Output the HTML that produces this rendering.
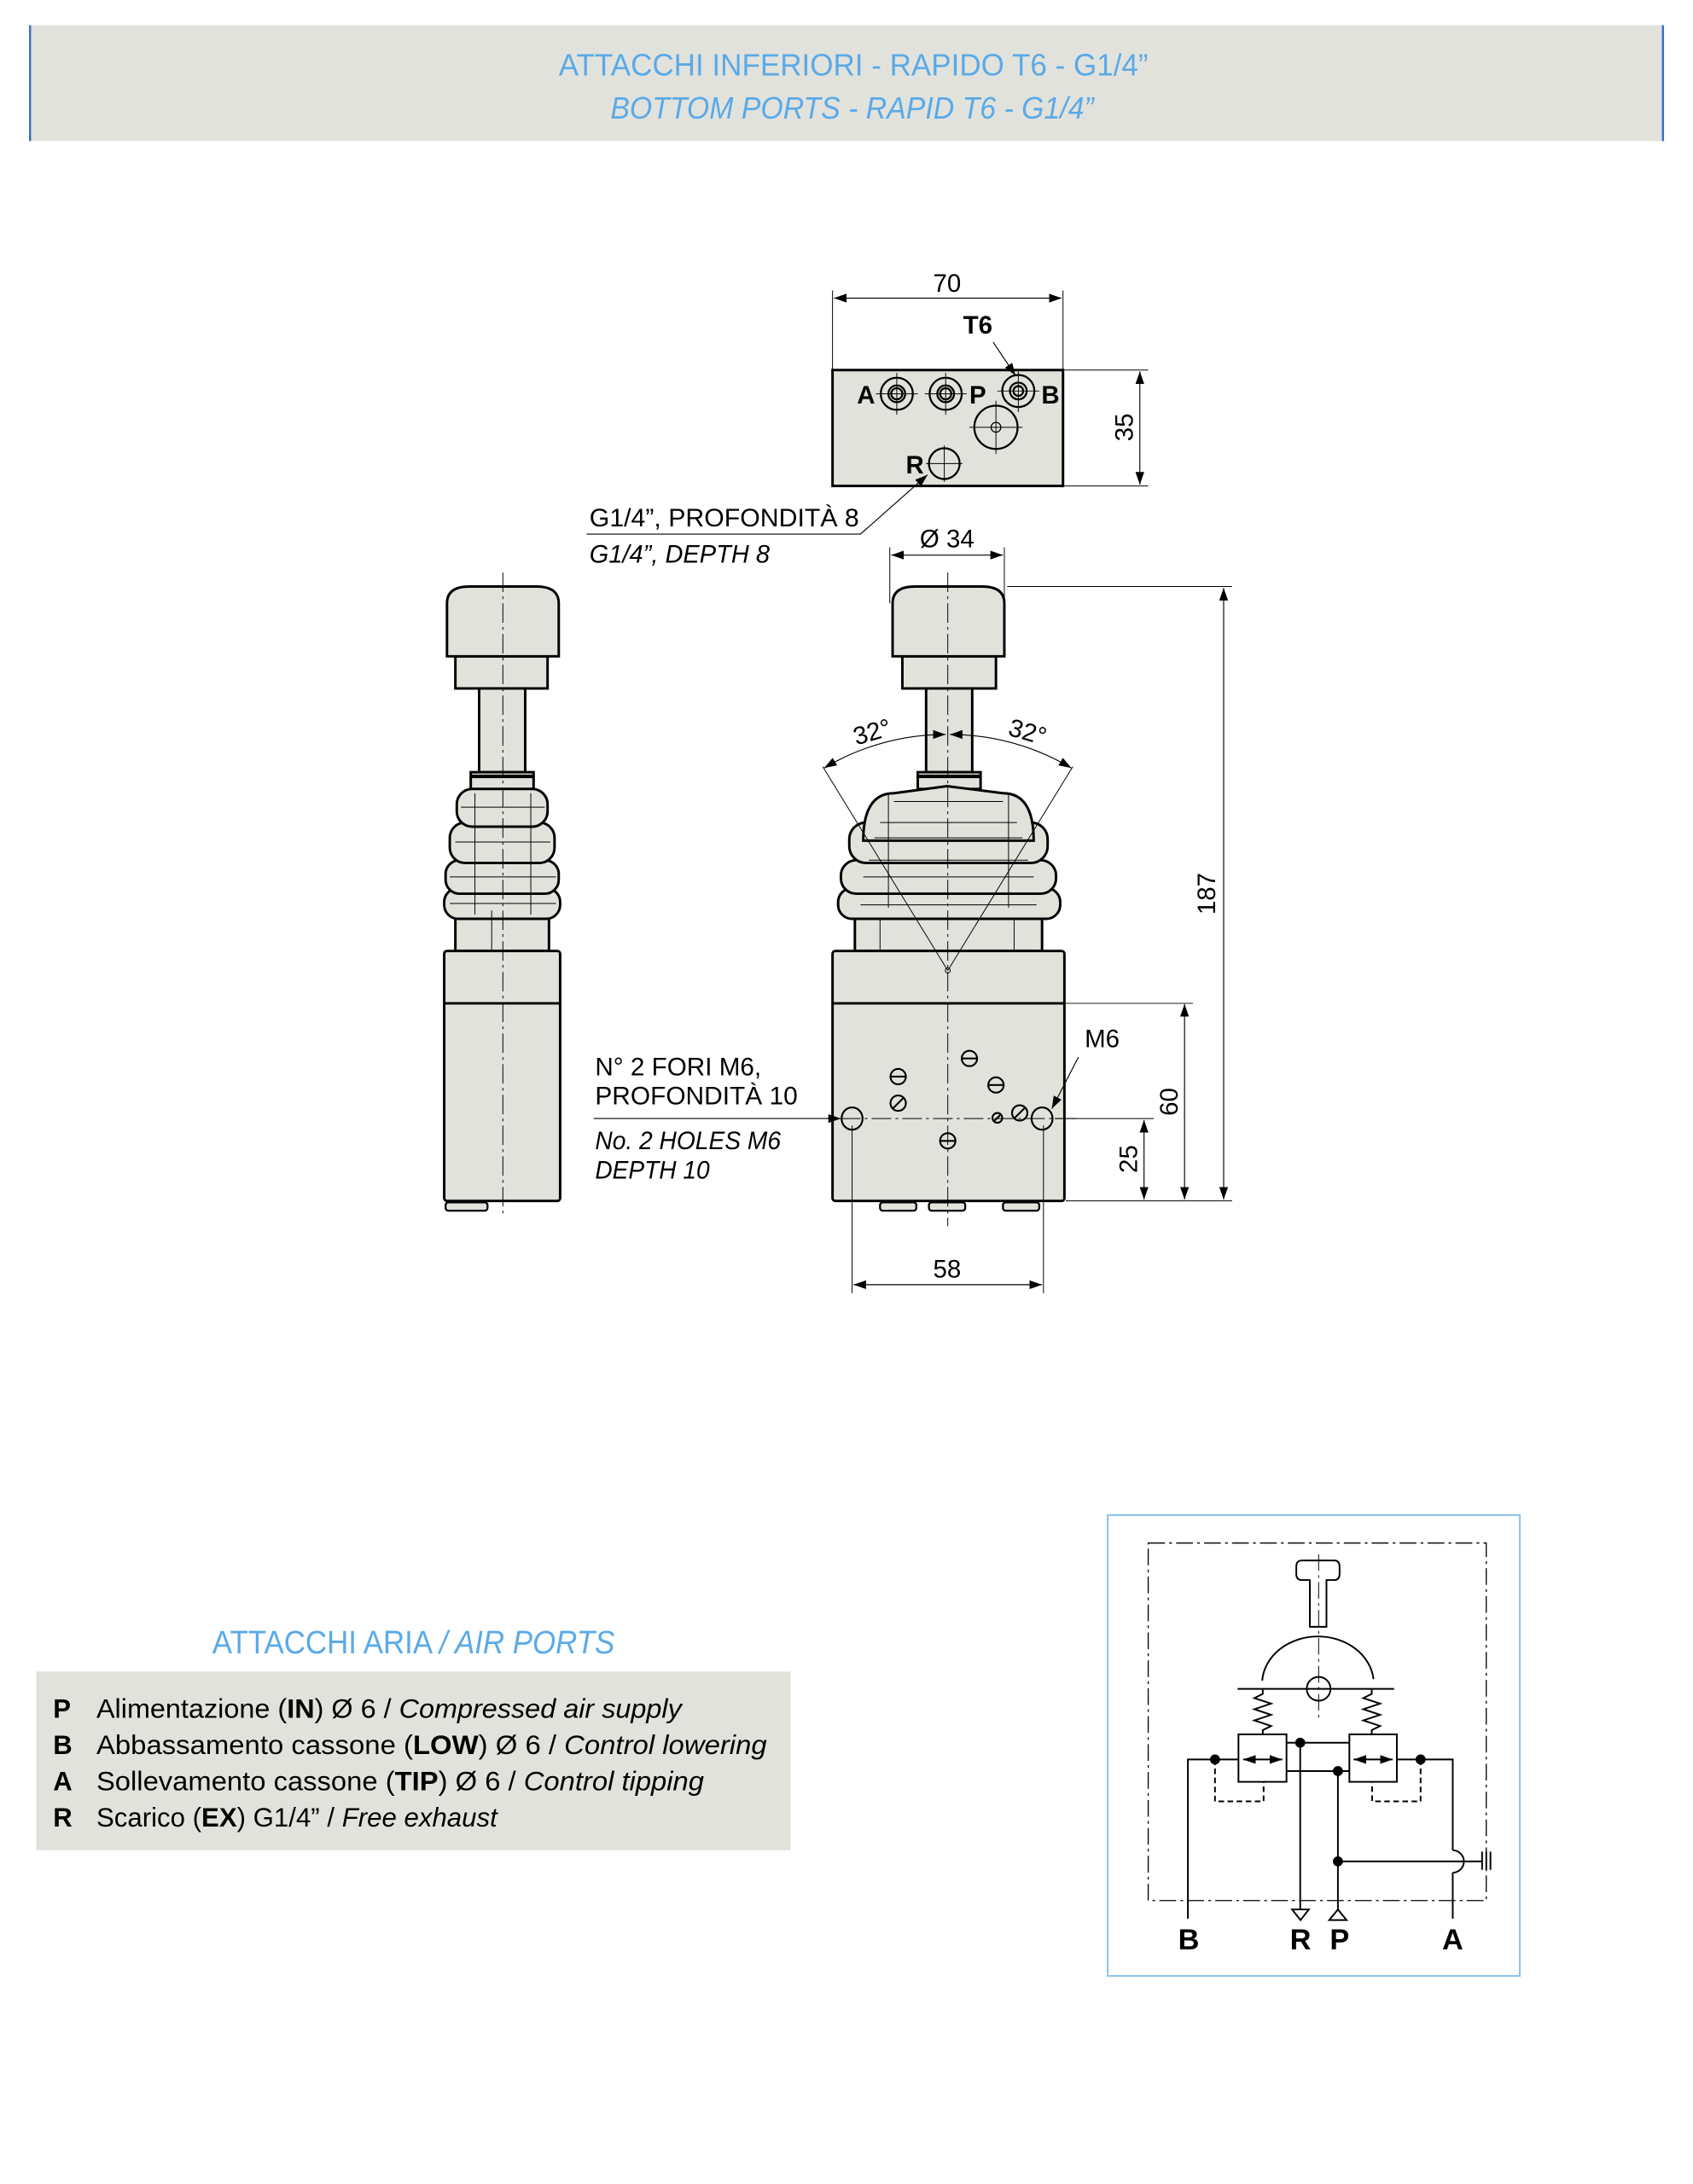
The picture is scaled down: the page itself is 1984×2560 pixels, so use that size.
<!DOCTYPE html>
<html><head><meta charset="utf-8"><style>
html,body{margin:0;padding:0;background:#fff;}
svg{display:block;}
text{font-family:"Liberation Sans",sans-serif;}
</style></head><body>
<svg width="1984" height="2560" viewBox="0 0 1212 1564" preserveAspectRatio="none" xmlns="http://www.w3.org/2000/svg">
<defs>
<marker id="ar" viewBox="0 0 10 10" refX="10" refY="5" markerWidth="9" markerHeight="9" markerUnits="userSpaceOnUse" orient="auto-start-reverse"><path d="M0,1.5 L10,5 L0,8.5 Z" fill="#000"/></marker>
</defs>
<rect width="1212" height="1564" fill="#fff"/>
<!-- header -->
<rect x="21" y="18" width="1170" height="83" fill="#e2e2dc"/>
<line x1="21.5" y1="18" x2="21.5" y2="101" stroke="#3a6fc4" stroke-width="1.5"/>
<line x1="1190.5" y1="18" x2="1190.5" y2="101" stroke="#3a6fc4" stroke-width="1.5"/>
<text x="400" y="54" font-size="22" fill="#5aaae8" textLength="422" lengthAdjust="spacingAndGlyphs">ATTACCHI INFERIORI - RAPIDO T6 - G1/4”</text>
<text x="437" y="85" font-size="22" font-style="italic" fill="#5aaae8" textLength="346" lengthAdjust="spacingAndGlyphs">BOTTOM PORTS - RAPID T6 - G1/4”</text>

<g stroke="#000" fill="none">
<!-- top view block -->
<rect x="596" y="265" width="165" height="83" fill="#e2e2dc" stroke-width="1.8"/>
<line x1="596" y1="208" x2="596" y2="265" stroke-width="0.6"/>
<line x1="761" y1="208" x2="761" y2="265" stroke-width="0.6"/>
<line x1="597" y1="213.5" x2="760" y2="213.5" stroke-width="0.7" marker-start="url(#ar)" marker-end="url(#ar)"/>
<line x1="762" y1="265" x2="822" y2="265" stroke-width="0.6"/>
<line x1="762" y1="348" x2="822" y2="348" stroke-width="0.6"/>
<line x1="816" y1="266" x2="816" y2="347" stroke-width="0.7" marker-start="url(#ar)" marker-end="url(#ar)"/>
<line x1="711" y1="245" x2="727" y2="269" stroke-width="0.7" marker-end="url(#ar)"/>
<!-- ports -->
<g stroke-width="1.4">
<circle cx="642" cy="282" r="11.5"/><circle cx="642" cy="282" r="6"/><circle cx="642" cy="282" r="4"/>
<circle cx="677" cy="282" r="11.5"/><circle cx="677" cy="282" r="6"/><circle cx="677" cy="282" r="4"/>
<circle cx="729" cy="280" r="11.5"/><circle cx="729" cy="280" r="6"/><circle cx="729" cy="280" r="3.5"/>
<circle cx="713" cy="306" r="15.5"/><circle cx="713" cy="306" r="3.5" stroke-width="0.8"/>
<circle cx="676" cy="332" r="11"/>
</g>
<g stroke-width="0.6">
<line x1="627" y1="282" x2="657" y2="282"/><line x1="642" y1="267" x2="642" y2="297"/>
<line x1="662" y1="282" x2="692" y2="282"/><line x1="677" y1="267" x2="677" y2="297"/>
<line x1="714" y1="280" x2="744" y2="280"/><line x1="729" y1="265" x2="729" y2="295"/>
<line x1="694" y1="306" x2="732" y2="306"/><line x1="713" y1="287" x2="713" y2="325"/>
<line x1="663" y1="332" x2="689" y2="332"/><line x1="676" y1="319" x2="676" y2="345"/>
</g>
<polyline points="420,382.5 616,382.5 664,340" stroke-width="0.7" marker-end="url(#ar)"/>
<!-- Ø34 -->
<line x1="637" y1="392" x2="637" y2="432" stroke-width="0.6"/>
<line x1="719" y1="392" x2="719" y2="432" stroke-width="0.6"/>
<line x1="638" y1="397.5" x2="718" y2="397.5" stroke-width="0.7" marker-start="url(#ar)" marker-end="url(#ar)"/>

<!-- FRONT VIEW -->
<g fill="#e2e2dc" stroke-width="1.8">
<rect x="646" y="470" width="67" height="23"/>
<path d="M639,470 L639,432 Q639,420 655,420 L703,420 Q719,420 719,432 L719,470 Z"/>
<rect x="663" y="493" width="33" height="60"/>
<rect x="657" y="553" width="45" height="12"/>
<rect x="612" y="652" width="134" height="29"/>
<rect x="600" y="636" width="159" height="22" rx="10"/>
<rect x="602" y="616" width="154" height="24" rx="11"/>
<rect x="608" y="589" width="142" height="29" rx="12"/>
<path d="M618,602 Q618,568 640,568 L678,563 L718,568 Q740,568 740,602 Z"/>
<rect x="596" y="681" width="166" height="179" rx="2"/>
</g>
<line x1="596" y1="718.5" x2="762" y2="718.5" stroke-width="1.8"/>
<line x1="657" y1="556" x2="702" y2="556" stroke-width="2.5"/>
<g stroke-width="0.6">
<line x1="636" y1="568" x2="636" y2="650"/><line x1="722" y1="568" x2="722" y2="650"/>
<line x1="640" y1="574" x2="718" y2="574"/>
<line x1="630" y1="589" x2="728" y2="589"/><line x1="626" y1="600" x2="732" y2="600"/>
<line x1="622" y1="616" x2="736" y2="616"/><line x1="618" y1="628" x2="740" y2="628"/>
<line x1="620" y1="640" x2="738" y2="640"/><line x1="616" y1="648" x2="742" y2="648"/>
<line x1="630" y1="658" x2="630" y2="681"/><line x1="726" y1="658" x2="726" y2="681"/>
</g>
<!-- feet -->
<g fill="#e2e2dc" stroke-width="1.4">
<rect x="630" y="861" width="26" height="6" rx="2"/><rect x="665" y="861" width="26" height="6" rx="2"/><rect x="718" y="861" width="26" height="6" rx="2"/>
</g>
<!-- center line -->
<line x1="678.5" y1="410" x2="678.5" y2="878" stroke-width="0.6" stroke-dasharray="14,3,2,3"/>
<!-- angle -->
<g stroke-width="0.6">
<line x1="678.5" y1="695" x2="589" y2="549"/>
<line x1="678.5" y1="695" x2="768" y2="549"/>
<circle cx="678.5" cy="695" r="1.8"/>
</g>
<path d="M590,550 A169,169 0 0 1 677,526" stroke-width="0.7" marker-start="url(#ar)" marker-end="url(#ar)"/>
<path d="M680,526 A169,169 0 0 1 767,550" stroke-width="0.7" marker-start="url(#ar)" marker-end="url(#ar)"/>
<!-- holes -->
<g stroke-width="1.3">
<ellipse cx="610" cy="801" rx="7.5" ry="8"/><ellipse cx="746" cy="801" rx="7.5" ry="8"/>
<circle cx="694" cy="758" r="5.5"/><line x1="688.5" y1="758" x2="699.5" y2="758"/>
<circle cx="643" cy="771" r="5.5"/><line x1="637.5" y1="771" x2="648.5" y2="771"/>
<circle cx="713" cy="777" r="5.5"/><line x1="707.5" y1="777" x2="718.5" y2="777"/>
<circle cx="643" cy="790" r="5.5"/><line x1="639" y1="794" x2="647" y2="786"/>
<circle cx="730" cy="797" r="5.5"/><line x1="726" y1="801" x2="734" y2="793"/>
<circle cx="714" cy="800.5" r="3.5"/><line x1="711.5" y1="803" x2="716.5" y2="798"/>
<circle cx="678.5" cy="817" r="5.5"/><line x1="673" y1="817" x2="684" y2="817"/>
</g>
<line x1="602" y1="801" x2="770" y2="801" stroke-width="0.6" stroke-dasharray="14,3,2,3"/>
<line x1="425" y1="801" x2="602" y2="801" stroke-width="0.7" marker-end="url(#ar)"/>
<line x1="772" y1="757" x2="753" y2="794" stroke-width="0.7" marker-end="url(#ar)"/>
<!-- dims right -->
<g stroke-width="0.6">
<line x1="721" y1="420" x2="882" y2="420"/>
<line x1="763" y1="718.5" x2="854" y2="718.5"/>
<line x1="755" y1="801" x2="826" y2="801"/>
<line x1="763" y1="860" x2="882" y2="860"/>
<line x1="610" y1="806" x2="610" y2="926"/>
<line x1="747" y1="806" x2="747" y2="926"/>
</g>
<g stroke-width="0.7">
<line x1="819" y1="802" x2="819" y2="859" marker-start="url(#ar)" marker-end="url(#ar)"/>
<line x1="848" y1="719" x2="848" y2="859" marker-start="url(#ar)" marker-end="url(#ar)"/>
<line x1="876" y1="421" x2="876" y2="859" marker-start="url(#ar)" marker-end="url(#ar)"/>
<line x1="611" y1="920" x2="746" y2="920" marker-start="url(#ar)" marker-end="url(#ar)"/>
</g>

<!-- LEFT VIEW -->
<g fill="#e2e2dc" stroke-width="1.8">
<rect x="326" y="470" width="66" height="23"/>
<path d="M320,470 L320,432 Q320,420 336,420 L384,420 Q400,420 400,432 L400,470 Z"/>
<rect x="343" y="493" width="33" height="60"/>
<rect x="337" y="553" width="45" height="12"/>
<rect x="326" y="652" width="67" height="29"/>
<rect x="318" y="636" width="83" height="22" rx="10"/>
<rect x="319" y="616" width="81" height="24" rx="10"/>
<rect x="322" y="589" width="75" height="29" rx="11"/>
<rect x="327" y="565" width="65" height="27" rx="11"/>
<rect x="318" y="681" width="83" height="179" rx="2"/>
</g>
<line x1="318" y1="718.5" x2="401" y2="718.5" stroke-width="1.8"/>
<line x1="337" y1="556" x2="382" y2="556" stroke-width="2.5"/>
<g stroke-width="0.6">
<line x1="340" y1="568" x2="340" y2="655"/><line x1="380" y1="568" x2="380" y2="655"/>
<line x1="352" y1="652" x2="352" y2="681"/>
<line x1="330" y1="578" x2="390" y2="578"/><line x1="326" y1="603" x2="394" y2="603"/>
<line x1="322" y1="628" x2="398" y2="628"/><line x1="322" y1="647" x2="398" y2="647"/>
</g>
<rect x="319" y="861" width="30" height="6" rx="2" fill="#e2e2dc" stroke-width="1.4"/>
<line x1="360" y1="410" x2="360" y2="872" stroke-width="0.6" stroke-dasharray="14,3,2,3"/>
</g>

<!-- drawing labels -->
<g font-size="18" fill="#000">
<text x="678" y="209" text-anchor="middle">70</text>
<text x="700" y="239" text-anchor="middle" font-weight="bold">T6</text>
<text x="620" y="289" text-anchor="middle" font-weight="bold">A</text>
<text x="700" y="289" text-anchor="middle" font-weight="bold">P</text>
<text x="752" y="289" text-anchor="middle" font-weight="bold">B</text>
<text x="655" y="339" text-anchor="middle" font-weight="bold">R</text>
<text transform="translate(811,306) rotate(-90)" text-anchor="middle">35</text>
<text x="422" y="377" textLength="193" lengthAdjust="spacingAndGlyphs">G1/4”, PROFONDITÀ 8</text>
<text x="422" y="403" font-style="italic" textLength="129" lengthAdjust="spacingAndGlyphs">G1/4”, DEPTH 8</text>
<text x="678" y="392" text-anchor="middle">Ø 34</text>
<text transform="translate(626,530) rotate(-16)" text-anchor="middle">32°</text>
<text transform="translate(734,530) rotate(16)" text-anchor="middle">32°</text>
<text x="426" y="770" textLength="119" lengthAdjust="spacingAndGlyphs">N° 2 FORI M6,</text>
<text x="426" y="791" textLength="145" lengthAdjust="spacingAndGlyphs">PROFONDITÀ 10</text>
<text x="426" y="823" font-style="italic" textLength="133" lengthAdjust="spacingAndGlyphs">No. 2 HOLES M6</text>
<text x="426" y="844" font-style="italic" textLength="82" lengthAdjust="spacingAndGlyphs">DEPTH 10</text>
<text x="789" y="750" text-anchor="middle">M6</text>
<text transform="translate(814,830) rotate(-90)" text-anchor="middle">25</text>
<text transform="translate(843,789) rotate(-90)" text-anchor="middle">60</text>
<text transform="translate(870,640) rotate(-90)" text-anchor="middle">187</text>
<text x="678" y="915" text-anchor="middle">58</text>
</g>

<!-- legend -->
<text x="152" y="1184" font-size="23" fill="#5aaae8" textLength="288" lengthAdjust="spacingAndGlyphs">ATTACCHI ARIA  <tspan font-style="italic">/ AIR PORTS</tspan></text>
<rect x="26" y="1197" width="540" height="128" fill="#e2e2dc"/>
<g font-size="19" fill="#000">
<text x="38" y="1230" font-weight="bold">P</text>
<text x="69" y="1230" textLength="419" lengthAdjust="spacingAndGlyphs">Alimentazione (<tspan font-weight="bold">IN</tspan>) Ø 6 / <tspan font-style="italic">Compressed air supply</tspan></text>
<text x="38" y="1256" font-weight="bold">B</text>
<text x="69" y="1256" textLength="480" lengthAdjust="spacingAndGlyphs">Abbassamento cassone (<tspan font-weight="bold">LOW</tspan>) Ø 6  / <tspan font-style="italic">Control lowering</tspan></text>
<text x="38" y="1282" font-weight="bold">A</text>
<text x="69" y="1282" textLength="435" lengthAdjust="spacingAndGlyphs">Sollevamento cassone (<tspan font-weight="bold">TIP</tspan>) Ø 6 / <tspan font-style="italic">Control tipping</tspan></text>
<text x="38" y="1308" font-weight="bold">R</text>
<text x="69" y="1308" textLength="287" lengthAdjust="spacingAndGlyphs">Scarico (<tspan font-weight="bold">EX</tspan>) G1/4” / <tspan font-style="italic">Free exhaust</tspan></text>
</g>

<!-- circuit -->
<rect x="793" y="1085" width="295" height="330" fill="#fff" stroke="#8ec5ee" stroke-width="1.3"/>
<g stroke="#000" fill="none" stroke-width="1.2">
<rect x="822" y="1105" width="242" height="256" stroke-width="0.8" stroke-dasharray="12,3,2,3"/>
<path d="M937.7,1165 L937.7,1131.5 L932,1131.5 Q928,1131.5 928,1127 L928,1122 Q928,1117.5 932,1117.5 L955,1117.5 Q959,1117.5 959,1122 L959,1127 Q959,1131.5 955,1131.5 L949.6,1131.5 L949.6,1165 Z"/>
<line x1="944" y1="1113" x2="944" y2="1230" stroke-width="0.6" stroke-dasharray="12,3,2,3"/>
<path d="M903.6,1203.5 A40,34 0 0 1 983.3,1202.5"/>
<line x1="886" y1="1209.4" x2="998" y2="1209.4"/>
<circle cx="944" cy="1209.4" r="8.5"/>
<polyline points="904,1210 904,1213 898,1216 910,1220 898,1224 910,1228 898,1232 910,1236 904,1239 904,1242"/>
<polyline points="982,1210 982,1213 976,1216 988,1220 976,1224 988,1228 976,1232 988,1236 982,1239 982,1242"/>
<rect x="886.6" y="1242" width="34.4" height="34"/>
<rect x="966" y="1242" width="34" height="34"/>
<line x1="890" y1="1260" x2="918" y2="1260" marker-start="url(#ar)" marker-end="url(#ar)"/>
<line x1="969" y1="1260" x2="997" y2="1260" marker-start="url(#ar)" marker-end="url(#ar)"/>
<line x1="921" y1="1248" x2="966" y2="1248"/>
<line x1="921" y1="1268.3" x2="966" y2="1268.3"/>
<line x1="930.8" y1="1248" x2="930.8" y2="1367.4"/>
<polygon points="925,1367.4 937,1367.4 931,1375"/>
<line x1="957.8" y1="1268.3" x2="957.8" y2="1367.4"/>
<polygon points="951.6,1375 964,1375 957.8,1367.4"/>
<line x1="957.8" y1="1333" x2="1061" y2="1333"/>
<line x1="1061" y1="1326" x2="1061" y2="1339"/><line x1="1064" y1="1326" x2="1064" y2="1339"/><line x1="1067" y1="1326" x2="1067" y2="1339"/>
<polyline points="886.6,1260 850.4,1260 850.4,1374"/>
<polyline points="1000,1260 1040,1260 1040,1325"/>
<path d="M1040,1325 A8,8 0 0 1 1040,1341"/>
<line x1="1040" y1="1341" x2="1040" y2="1374"/>
<polyline points="869.8,1260 869.8,1290 904.6,1290 904.6,1276" stroke-dasharray="4,2.5"/>
<polyline points="1017,1260 1017,1290 982.3,1290 982.3,1276" stroke-dasharray="4,2.5"/>
</g>
<g fill="#000">
<circle cx="930.8" cy="1248" r="3.6"/><circle cx="957.8" cy="1268.3" r="3.6"/>
<circle cx="869.8" cy="1260" r="3.6"/><circle cx="1017" cy="1260" r="3.6"/>
<circle cx="957.8" cy="1333" r="3.6"/>
</g>
<g font-size="21" font-weight="bold" fill="#000" text-anchor="middle">
<text x="851" y="1396">B</text><text x="931" y="1396">R</text><text x="959" y="1396">P</text><text x="1040" y="1396">A</text>
</g>
</svg>
</body></html>
